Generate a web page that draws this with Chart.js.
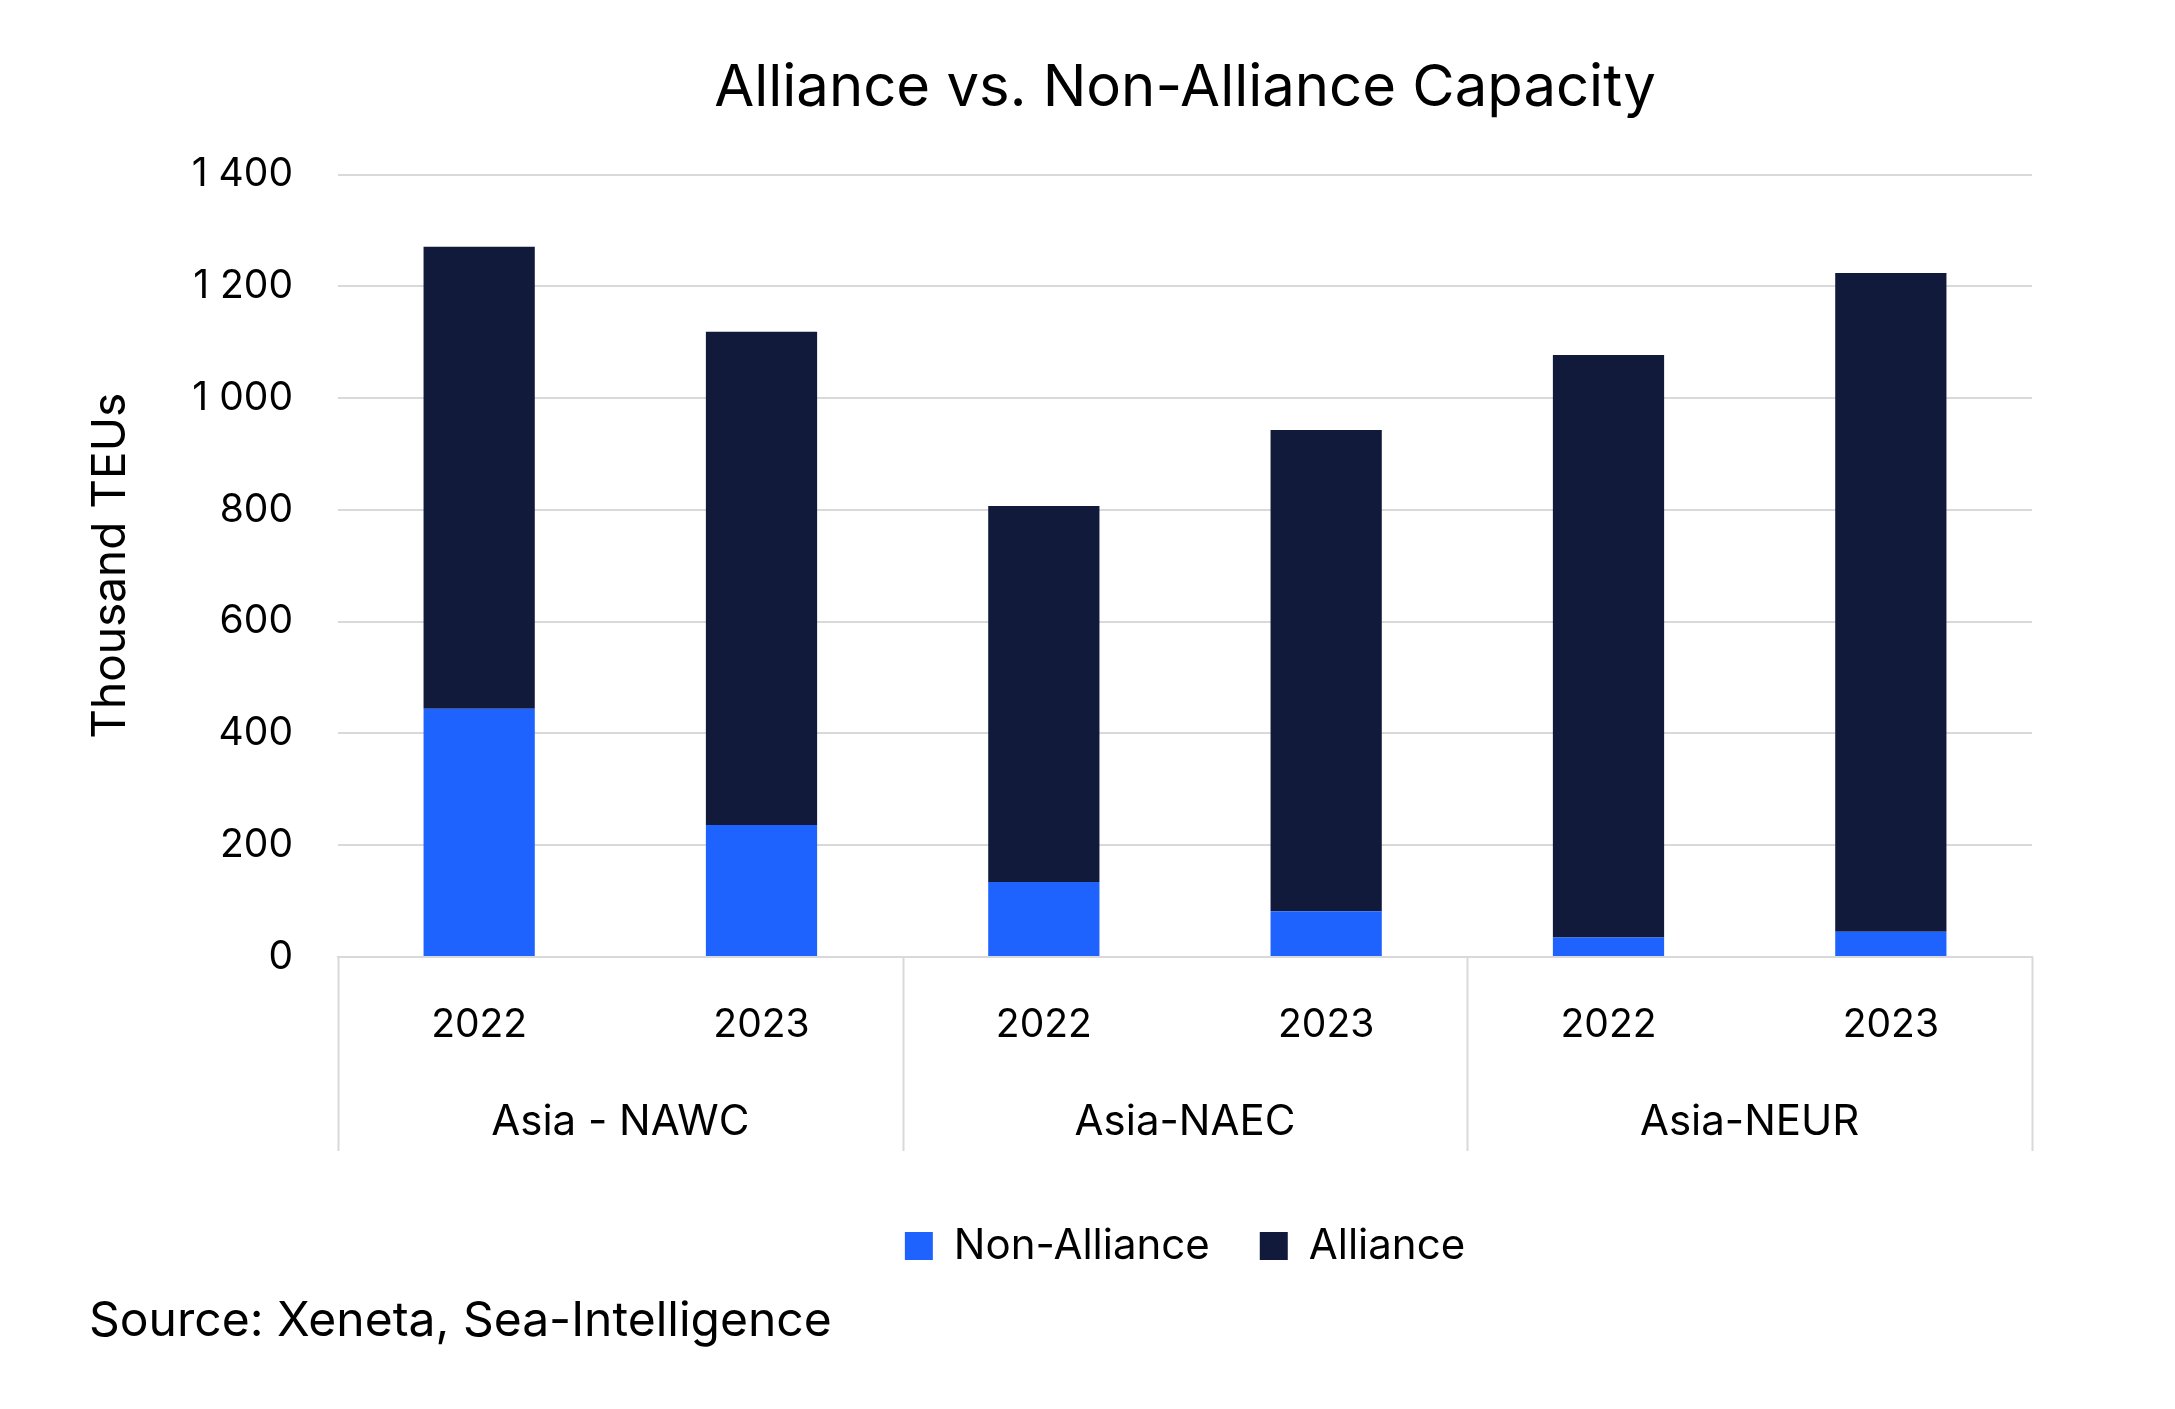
<!DOCTYPE html>
<html>
<head>
<meta charset="utf-8">
<script src="https://cdn.jsdelivr.net/npm/chart.js@4"></script>
<style>
  body { margin: 0; background: #ffffff; }
  #wrap { width: 2175px; height: 1409px; }
</style>
</head>
<body>
<div id="wrap"><canvas id="grafica" width="2175" height="1409"></canvas></div>
<script>
// datos (miles de TEU)
const categorias = ['2022', '2023', '2022', '2023', '2022', '2023'];
const grupos = ['Asia - NAWC', 'Asia-NAEC', 'Asia-NEUR'];
const nonAlliance = [444, 236, 134, 82, 35, 45];
const alliance = [827, 883, 673, 861, 1042, 1179];

const fuente = 'Inter, "Noto Sans", sans-serif';
const azul = '#1f63ff';
const marino = '#111a3b';
const gris = '#d9d9d9';

function miles(v) {
    if (v >= 1000) {
        let r = String(v % 1000).padStart(3, '0');
        return Math.floor(v / 1000) + ' ' + r;
    }
    return String(v);
}

// separadores y etiquetas de grupo bajo el eje x
const grupoPlugin = {
    id: 'grupos',
    afterDraw(chart) {
        const ctx = chart.ctx;
        const x = chart.scales.x;
        const area = chart.chartArea;
        const paso = x.getPixelForTick(1) - x.getPixelForTick(0);
        const yTop = area.bottom;
        const yBot = area.bottom + 194;
        ctx.save();
        ctx.strokeStyle = gris;
        ctx.lineWidth = 2;
        for (let g = 0; g <= grupos.length; g++) {
            let px = g < grupos.length ? x.getPixelForTick(g * 2) - paso / 2 : x.getPixelForTick(g * 2 - 1) + paso / 2;
            px = Math.round(px) + 0.5;
            ctx.beginPath();
            ctx.moveTo(px, yTop);
            ctx.lineTo(px, yBot);
            ctx.stroke();
        }
        ctx.fillStyle = '#000000';
        ctx.font = '42px ' + fuente;
        ctx.textAlign = 'center';
        ctx.textBaseline = 'middle';
        grupos.forEach(function (nombre, g) {
            const cx = (x.getPixelForTick(g * 2) + x.getPixelForTick(g * 2 + 1)) / 2;
            ctx.fillText(nombre, cx, area.bottom + 165);
        });
        // fuente
        ctx.textAlign = 'left';
        ctx.font = '48px ' + fuente;
        ctx.fillText('Source: Xeneta, Sea-Intelligence', 89, 1322);
        ctx.restore();
    }
};

const ctx = document.getElementById('grafica').getContext('2d');
const chart = new Chart(ctx, {
    type: 'bar',
    data: {
        labels: categorias,
        datasets: [
            { label: 'Non-Alliance', data: nonAlliance, backgroundColor: azul },
            { label: 'Alliance', data: alliance, backgroundColor: marino }
        ]
    },
    options: {
        responsive: false,
        animation: false,
        devicePixelRatio: 1,
        layout: { padding: { left: 84, right: 143, top: 0, bottom: 132 } },
        datasets: { bar: { categoryPercentage: 1, barPercentage: 0.394 } },
        plugins: {
            tooltip: { enabled: false },
            title: {
                display: true,
                text: 'Alliance vs. Non-Alliance Capacity',
                color: '#000000',
                fullSize: false,
                font: { family: fuente, size: 58, weight: 'normal' },
                padding: { top: 54, bottom: 51 }
            },
            legend: {
                position: 'bottom',
                fullSize: false,
                labels: {
                    color: '#000000',
                    font: { family: fuente, size: 42 },
                    boxWidth: 28,
                    boxHeight: 28,
                    padding: 50
                }
            }
        },
        scales: {
            x: {
                stacked: true,
                grid: { display: false },
                border: { display: true, color: gris, width: 2 },
                ticks: { color: '#000000', font: { family: fuente, size: 39 }, padding: 37, maxRotation: 0 },
                afterFit(s) { s.height = 218; }
            },
            y: {
                stacked: true,
                min: 0,
                max: 1400,
                border: { display: false },
                grid: { color: gris, lineWidth: 2, drawTicks: false },
                ticks: {
                    stepSize: 200,
                    color: '#000000',
                    padding: 45,
                    font: { family: fuente, size: 39 },
                    callback: function (v) { return miles(v); }
                },
                title: {
                    display: true,
                    text: 'Thousand TEUs',
                    color: '#000000',
                    font: { family: fuente, size: 46 },
                    padding: 0
                },
                afterFit(s) { s.width = 254; }
            }
        }
    },
    plugins: [grupoPlugin]
});
</script>
</body>
</html>
